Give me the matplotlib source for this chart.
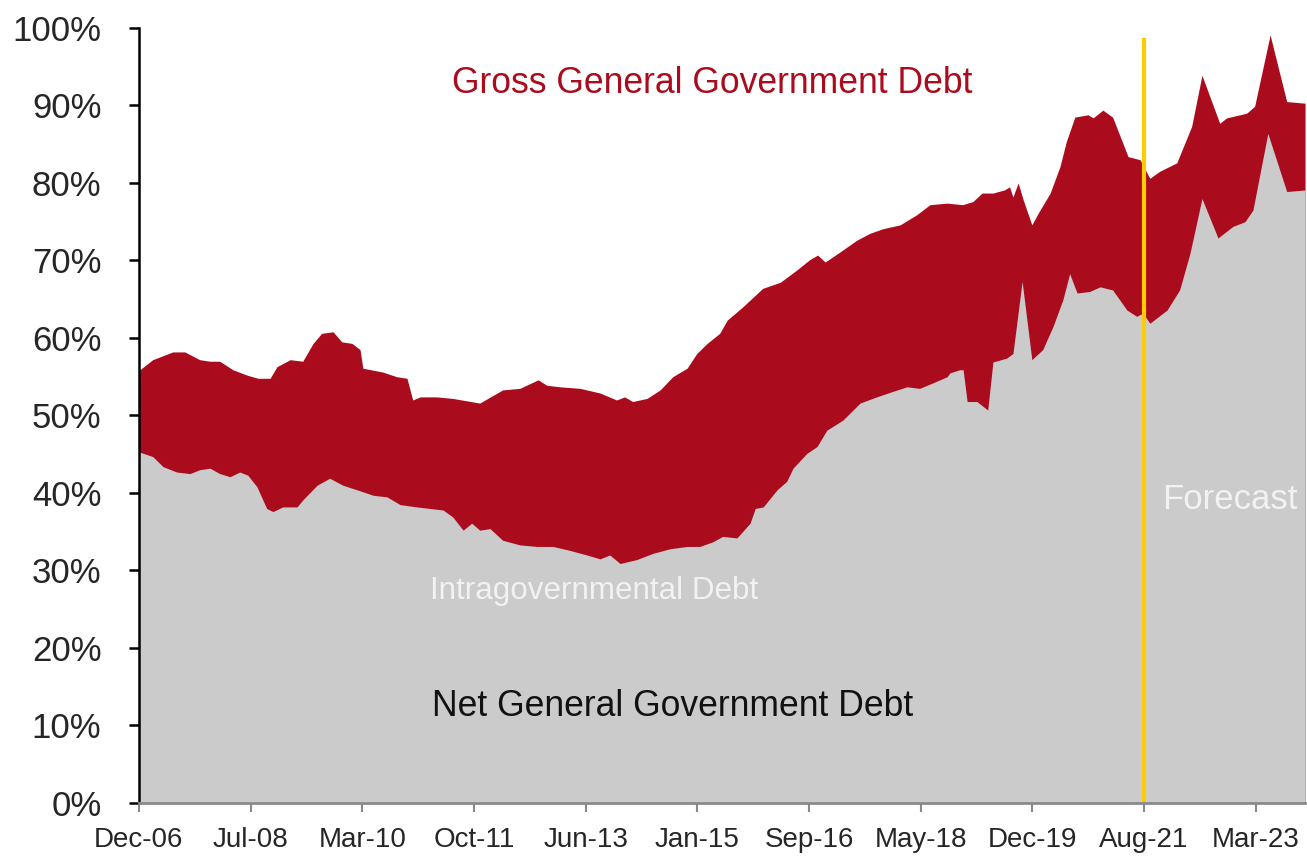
import matplotlib
matplotlib.use("Agg")
import matplotlib.pyplot as plt
from matplotlib.ticker import FuncFormatter

# ---- data (x = months since Dec-2006, y = % of GDP) ----
gross_month = [0, 2.4, 5.9, 8.0, 10.6, 12.4, 14.1, 16.4, 18.9, 20.8, 22.9, 24.1, 26.4, 28.6,
               30.4, 31.9, 33.9, 35.4, 37.2, 38.6, 39.1, 42.6, 45.0, 46.8, 47.8, 49.1, 52.0,
               54.8, 59.5, 63.5, 66.5, 69.7, 71.2, 73.5, 77.0, 80.5, 83.4, 84.8, 86.2, 88.7,
               91.0, 93.2, 95.7, 97.4, 99.2, 101.4, 102.7, 105.4, 108.9, 112.0, 114.9, 117.1,
               118.5, 119.8, 122.4, 125.3, 127.6, 129.9, 132.9, 135.8, 138.1, 141.1, 143.8,
               145.6, 147.2, 149.1, 151.1, 152.0, 152.6, 153.5, 154.4, 155.9, 157.0, 159.1,
               160.8, 161.9, 163.4, 165.7, 166.6, 168.3, 170.0, 172.7, 174.8, 176.5, 178.2,
               181.2, 183.8, 185.6, 188.7, 189.9, 193.4, 194.8, 197.5, 200.4, 203.6]
gross_pct = [55.8, 57.2, 58.2, 58.2, 57.2, 57.0, 57.0, 55.9, 55.2, 54.8, 54.8, 56.3, 57.2, 57.0,
             59.3, 60.6, 60.8, 59.5, 59.3, 58.5, 56.1, 55.6, 55.0, 54.8, 52.0, 52.4, 52.4,
             52.2, 51.6, 53.3, 53.5, 54.6, 53.9, 53.7, 53.5, 52.9, 52.0, 52.4, 51.8, 52.2,
             53.3, 55.0, 56.1, 58.0, 59.3, 60.6, 62.3, 64.0, 66.4, 67.2, 68.8, 70.1,
             70.7, 69.8, 71.1, 72.6, 73.5, 74.1, 74.6, 75.9, 77.2, 77.4, 77.2,
             77.6, 78.7, 78.7, 79.1, 79.5, 78.2, 80.0, 77.8, 74.6, 76.1, 78.7,
             82.1, 85.3, 88.5, 88.8, 88.4, 89.4, 88.5, 83.4, 83.0, 80.6, 81.5,
             82.6, 87.3, 93.9, 87.7, 88.4, 89.0, 89.9, 99.1, 90.5, 90.3]

net_month = [0, 2.4, 4.2, 6.6, 8.9, 10.6, 12.4, 14.1, 15.9, 17.6, 19.0, 20.6, 22.3, 23.4,
             25.1, 27.6, 28.6, 31.1, 33.3, 35.6, 38.1, 40.9, 43.3, 45.6, 48.5, 50.8, 53.1,
             54.8, 56.6, 58.1, 59.5, 61.3, 63.5, 66.5, 69.5, 72.3, 75.2, 78.2, 80.5, 82.2,
             84.0, 86.9, 89.7, 92.7, 95.7, 97.9, 100.2, 101.9, 104.4, 106.7, 107.6, 109.0,
             111.4, 113.1, 114.2, 116.6, 118.4, 120.1, 122.9, 125.9, 128.8, 131.6, 134.1,
             136.3, 138.6, 141.1, 141.6, 143.3, 143.9, 144.6, 146.3, 148.2, 149.1, 151.5,
             152.6, 154.2, 155.9, 157.8, 159.6, 161.3, 162.5, 163.8, 166.0, 167.8, 170.0,
             172.5, 174.2, 175.3, 176.5, 179.5, 181.7, 183.5, 185.6, 188.4, 191.0, 193.1,
             194.5, 197.1, 200.4, 203.6]
net_pct = [45.3, 44.7, 43.4, 42.7, 42.5, 43.0, 43.2, 42.5, 42.1, 42.7, 42.3, 40.8, 38.0, 37.6,
           38.2, 38.2, 39.1, 41.0, 41.9, 41.0, 40.4, 39.7, 39.5, 38.5, 38.2, 38.0, 37.8,
           36.9, 35.2, 36.1, 35.2, 35.4, 33.9, 33.3, 33.1, 33.1, 32.6, 32.0, 31.5, 32.0,
           30.9, 31.4, 32.2, 32.8, 33.1, 33.1, 33.7, 34.4, 34.2, 36.1, 38.0, 38.2,
           40.4, 41.5, 43.2, 45.1, 46.0, 48.1, 49.4, 51.6, 52.4, 53.1, 53.7,
           53.5, 54.2, 55.0, 55.5, 55.9, 55.9, 51.8, 51.8, 50.7, 56.9, 57.4,
           58.0, 67.3, 57.2, 58.5, 61.5, 64.9, 68.3, 65.8, 66.0, 66.6, 66.2,
           63.6, 62.8, 63.2, 61.9, 63.6, 66.2, 70.9, 78.0, 72.9, 74.4, 75.0,
           76.5, 86.4, 78.9, 79.1]

tick_month = [0, 19.5, 39, 58.5, 78, 97.5, 117, 136.5, 156, 175.5, 195]
tick_labels = ['Dec-06', 'Jul-08', 'Mar-10', 'Oct-11', 'Jun-13', 'Jan-15',
               'Sep-16', 'May-18', 'Dec-19', 'Aug-21', 'Mar-23']
forecast_month = 175.5
y_ticks = [0, 10, 20, 30, 40, 50, 60, 70, 80, 90, 100]

RED = '#AB0C1D'
GRAY = '#CBCBCB'
YELLOW = '#FFCC00'

plt.rcParams['font.family'] = ['Liberation Sans', 'DejaVu Sans']

fig = plt.figure(figsize=(13.07, 8.61), dpi=100)
ax = fig.add_axes([0.1063, 0.0674, 0.8922, 0.9001])

ax.fill_between(gross_month, 0, gross_pct, color=RED, linewidth=0, zorder=1)
ax.fill_between(net_month, 0, net_pct, color=GRAY, linewidth=0, zorder=2)
ax.plot([forecast_month, forecast_month], [0, 98.7], color=YELLOW, lw=3, zorder=3,
        solid_capstyle='butt')

ax.set_xlim(0, 203.6)
ax.set_ylim(0, 100)

ax.set_xticks(tick_month)
ax.set_xticklabels(tick_labels)
ax.set_yticks(y_ticks)
ax.yaxis.set_major_formatter(FuncFormatter(lambda v, p: f'{v:.0f}%'))

for s in ['top', 'right']:
    ax.spines[s].set_visible(False)
ax.spines['left'].set_color('black')
ax.spines['left'].set_linewidth(1.8)
ax.spines['bottom'].set_color('#8a8a8a')
ax.spines['bottom'].set_linewidth(2)
ax.spines['left'].set_zorder(4)
ax.spines['bottom'].set_zorder(4)

ax.tick_params(axis='y', direction='out', length=7, width=1.8, color='black',
               labelsize=25, pad=20, labelcolor='#262626')
ax.tick_params(axis='x', direction='out', length=6.5, width=1.5, color='#8a8a8a',
               labelsize=20, pad=11, labelcolor='#262626')

ax.text(54.6, 92.8, 'Gross General Government Debt', color=RED, fontsize=25.6,
        ha='left', va='center')
ax.text(50.8, 27.3, 'Intragovernmental Debt', color='#F2F2F2', fontsize=22.6,
        ha='left', va='center', zorder=5)
ax.text(51.2, 12.4, 'Net General Government Debt', color='#111111', fontsize=25.6,
        ha='left', va='center', zorder=5)
ax.text(178.6, 39.2, 'Forecast', color='#F2F2F2', fontsize=25,
        ha='left', va='center', zorder=5)

fig.savefig('out.png', dpi=100)
